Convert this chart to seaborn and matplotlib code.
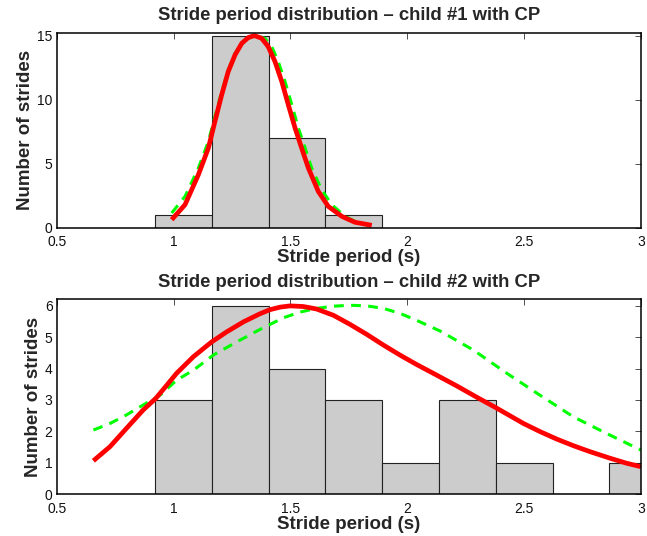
import numpy as np
import pandas as pd
import matplotlib
matplotlib.use("Agg")
import matplotlib.pyplot as plt
import seaborn as sns

sns.set_style("white")
plt.rcParams["font.family"] = ["Liberation Sans", "DejaVu Sans"]

# ---------------- data ----------------
titles = ["Stride period distribution \u2013 child #1 with CP",
          "Stride period distribution \u2013 child #2 with CP"]
xlabel = "Stride period (s)"
ylabel = "Number of strides"

# child 1 histogram
edges1 = [0.922, 1.165, 1.408, 1.650, 1.893]
counts1 = [1, 15, 7, 1]
# child 2 histogram
edges2 = [0.922, 1.165, 1.408, 1.650, 1.893, 2.136, 2.379, 2.622, 2.865, 3.108]
counts2 = [3, 6, 4, 3, 1, 3, 1, 0, 1]

# child 1 fitted curves
red1_x = [0.992, 1.049, 1.106, 1.149, 1.177, 1.206, 1.234, 1.263, 1.292, 1.320,
          1.346, 1.377, 1.405, 1.434, 1.463, 1.491, 1.520, 1.548, 1.577, 1.619,
          1.662, 1.720, 1.776, 1.848]
red1_y = [0.61, 1.78, 4.12, 6.21, 8.29, 10.37, 12.19, 13.49, 14.40, 14.85,
          15.00, 14.79, 14.14, 12.97, 11.41, 9.59, 7.77, 6.21, 4.64, 2.83,
          1.65, 0.87, 0.41, 0.17]
green1_x = [0.992, 1.049, 1.106, 1.149, 1.177, 1.206, 1.234, 1.263, 1.306, 1.349,
            1.391, 1.420, 1.448, 1.477, 1.506, 1.534, 1.563, 1.591, 1.634, 1.677,
            1.734, 1.791, 1.833]
green1_y = [1.13, 2.43, 4.64, 6.73, 8.68, 10.63, 12.32, 13.62, 14.66, 15.00,
            14.79, 14.14, 12.97, 11.41, 9.59, 7.77, 6.21, 4.64, 2.95, 1.78,
            0.87, 0.35, 0.17]

# child 2 fitted curves
red2_x = [0.657, 0.728, 0.798, 0.870, 0.924, 0.971, 1.013, 1.085, 1.163, 1.227,
          1.299, 1.370, 1.413, 1.456, 1.498, 1.555, 1.612, 1.684, 1.755, 1.827,
          1.898, 1.969, 2.040, 2.111, 2.211, 2.311, 2.375, 2.497, 2.568, 2.640,
          2.711, 2.782, 2.868, 2.939, 3.000]
red2_y = [1.06, 1.51, 2.09, 2.68, 3.05, 3.47, 3.85, 4.38, 4.85, 5.17,
          5.49, 5.75, 5.88, 5.96, 6.00, 5.98, 5.90, 5.70, 5.41, 5.09,
          4.75, 4.43, 4.13, 3.85, 3.45, 3.03, 2.77, 2.25, 1.99, 1.75,
          1.54, 1.35, 1.14, 0.98, 0.87]
green2_x = [0.657, 0.728, 0.798, 0.870, 0.942, 1.013, 1.085, 1.170, 1.270, 1.370,
            1.470, 1.540, 1.612, 1.684, 1.755, 1.827, 1.898, 1.969, 2.040, 2.140,
            2.283, 2.426, 2.568, 2.711, 2.853, 3.000]
green2_y = [2.04, 2.25, 2.52, 2.84, 3.15, 3.63, 3.95, 4.43, 4.85, 5.25,
            5.62, 5.80, 5.92, 5.99, 6.02, 6.00, 5.92, 5.76, 5.54, 5.20,
            4.59, 3.85, 3.15, 2.46, 1.93, 1.40]

xticks = [0.5, 1, 1.5, 2, 2.5, 3]
xticklabels = ["0.5", "1", "1.5", "2", "2.5", "3"]
yticks1 = [0, 5, 10, 15]
yticks2 = [0, 1, 2, 3, 4, 5, 6]

# ---------------- figure ----------------
W, H = 647, 536
fig = plt.figure(figsize=(W / 100, H / 100), dpi=100)

def ax_rect(l, t, r, b):
    return [l / W, 1 - b / H, (r - l) / W, (b - t) / H]

ax1 = fig.add_axes(ax_rect(56.7, 33.3, 641, 227.5))
ax2 = fig.add_axes(ax_rect(56.7, 299.3, 641, 494))

panels = [
    (ax1, edges1, counts1, red1_x, red1_y, green1_x, green1_y, yticks1, 15.18, titles[0], 9.5),
    (ax2, edges2, counts2, red2_x, red2_y, green2_x, green2_y, yticks2, 6.21, titles[1], 9.0),
]

for ax, edges, counts, rx, ry, gx, gy, yt, ytop, title, tpad in panels:
    centers = [(a + b) / 2 for a, b in zip(edges[:-1], edges[1:])]
    df = pd.DataFrame({"x": centers, "w": counts})
    sns.histplot(data=df, x="x", weights="w", bins=edges, stat="count",
                 color="#cccccc", edgecolor="#222222", linewidth=0.8,
                 alpha=1.0, ax=ax)
    sns.lineplot(x=gx, y=gy, color="#00ff00", lw=2.2, ax=ax)
    ax.lines[-1].set_dashes([3.2, 2.4])
    sns.lineplot(x=rx, y=ry, color="#ff0000", lw=3.4, ax=ax,
                 solid_joinstyle="round", solid_capstyle="butt")

    ax.set_xlim(0.5, 3.0)
    ax.set_ylim(0, ytop)
    ax.set_xticks(xticks)
    ax.set_xticklabels(xticklabels)
    ax.set_yticks(yt)
    ax.tick_params(direction="in", length=4, width=0.6, color="#333333",
                   labelsize=10, top=True, right=True,
                   labelcolor="#111111")
    ax.tick_params(axis="x", pad=5.5)
    ax.tick_params(axis="y", pad=3.0)
    for sp in ax.spines.values():
        sp.set_visible(True)
        sp.set_linewidth(1.1)
        sp.set_color("black")
    ax.set_xlabel(xlabel, fontsize=13.5, fontweight="bold", labelpad=0)
    ax.set_ylabel(ylabel, fontsize=13.5, fontweight="bold", labelpad=2)
    ax.set_title(title, fontsize=13.3, fontweight="bold", pad=tpad)

fig.savefig("out.png", dpi=100)
